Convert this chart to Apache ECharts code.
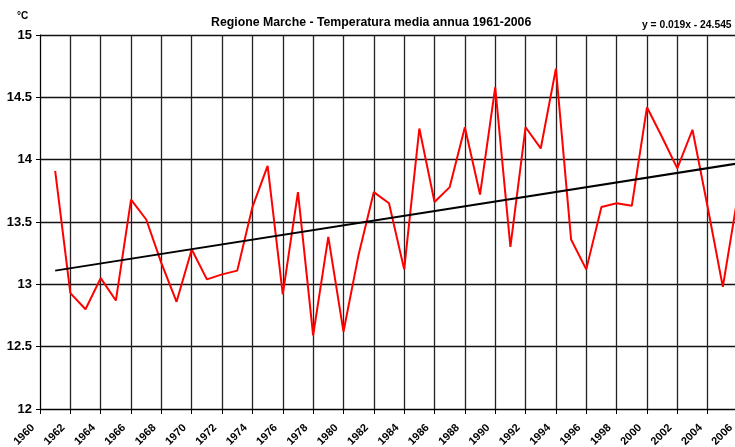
<!DOCTYPE html>
<html>
<head>
<meta charset="utf-8">
<script src="https://cdn.jsdelivr.net/npm/echarts@6/dist/echarts.min.js"></script>
<style>
  html, body { margin: 0; padding: 0; background: #fff; }
  #chart { width: 735px; height: 447px; }
</style>
</head>
<body>
<div id="chart"></div>
<script>
// anni e temperature medie annue (°C)
const years = [1961, 1962, 1963, 1964, 1965, 1966, 1967, 1968, 1969, 1970,
  1971, 1972, 1973, 1974, 1975, 1976, 1977, 1978, 1979, 1980,
  1981, 1982, 1983, 1984, 1985, 1986, 1987, 1988, 1989, 1990,
  1991, 1992, 1993, 1994, 1995, 1996, 1997, 1998, 1999, 2000,
  2001, 2002, 2003, 2004, 2005, 2006];
const temps = [13.91, 12.93, 12.80, 13.05, 12.87, 13.68, 13.52, 13.17, 12.86, 13.28,
  13.04, 13.08, 13.11, 13.62, 13.95, 12.92, 13.74, 12.59, 13.38, 12.62,
  13.24, 13.74, 13.65, 13.12, 14.25, 13.66, 13.78, 14.26, 13.72, 14.58,
  13.30, 14.26, 14.09, 14.73, 13.36, 13.12, 13.62, 13.65, 13.63, 14.42,
  14.18, 13.93, 14.24, 13.62, 12.98, 13.72];
// retta di tendenza (estremi)
const trendYears = [1961, 2006];
const trendValues = [13.11, 13.97];

const font = 'Liberation Sans, Arial, sans-serif';
const chart = echarts.init(document.getElementById('chart'));

chart.setOption({
  animation: false,
  title: [
    {
      text: 'Regione Marche - Temperatura media annua 1961-2006',
      left: 211, top: 17, padding: 0,
      textStyle: { fontSize: 12.3, fontWeight: 'bold', color: '#000', fontFamily: font }
    },
    {
      text: '°C', left: 17, top: 11, padding: 0,
      textStyle: { fontSize: 10, fontWeight: 'bold', color: '#000', fontFamily: font }
    },
    {
      text: 'y = 0.019x - 24.545', left: 642, top: 20, padding: 0,
      textStyle: { fontSize: 10.3, fontWeight: 'bold', color: '#000', fontFamily: font }
    }
  ],
  // il grafico originale e' tagliato a destra: l'area prosegue oltre il bordo
  grid: { left: 40, width: 698, top: 35, bottom: 38, outerBoundsMode: 'none' },
  xAxis: {
    type: 'value', min: 1960, max: 2006, interval: 2,
    axisLine: { lineStyle: { color: '#000', width: 1 } },
    axisTick: { show: true, length: 5, lineStyle: { color: '#000' } },
    axisLabel: {
      rotate: 45, margin: 10, padding: [0, 10, 0, 0],
      color: '#000', fontSize: 11, fontWeight: 'bold', fontFamily: font,
      formatter: v => String(v)
    },
    splitLine: { show: true, lineStyle: { color: '#222', width: 1.3 } }
  },
  yAxis: {
    type: 'value', min: 12, max: 15, interval: 0.5,
    axisLine: { show: true, lineStyle: { color: '#000', width: 1 } },
    axisTick: { show: true, length: 4, lineStyle: { color: '#000' } },
    axisLabel: { color: '#000', fontSize: 13, fontWeight: 'bold', fontFamily: font, margin: 8 },
    splitLine: { show: true, lineStyle: { color: '#111', width: 1.3 } }
  },
  series: [
    {
      type: 'line',
      data: years.map((y, i) => [y, temps[i]]),
      showSymbol: false,
      lineStyle: { color: '#ff0000', width: 2 },
      itemStyle: { color: '#ff0000' },
      z: 3
    },
    {
      type: 'line',
      data: trendYears.map((y, i) => [y, trendValues[i]]),
      showSymbol: false,
      lineStyle: { color: '#000', width: 2 },
      z: 4
    }
  ]
});
</script>
</body>
</html>
